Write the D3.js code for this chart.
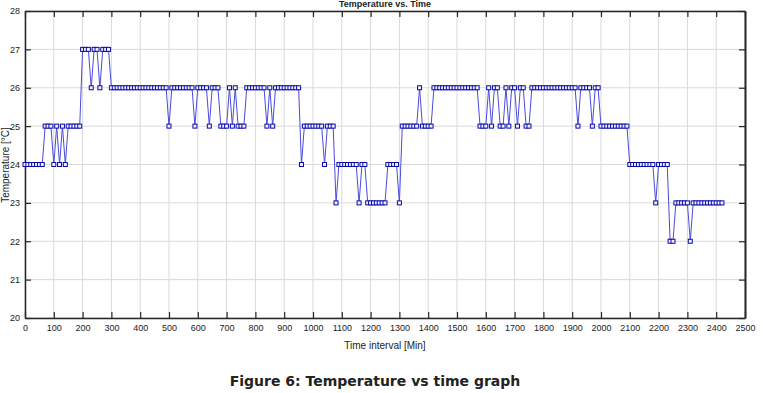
<!DOCTYPE html>
<html lang="en">
<head>
    <meta charset="UTF-8">
    <title>Temperature vs. Time</title>
    <script src="https://d3js.org/d3.v7.min.js"></script>
    <style>
        body { margin: 0; background: #fff; }
        .tick text { font-family: 'Liberation Sans', Arial, sans-serif; font-size: 9px; fill: #222; }
        .axis-label { font-family: 'Liberation Sans', Arial, sans-serif; font-size: 10px; fill: #222; }
    </style>
</head>
<body>
<script>
    // sampling interval of the logger (minutes)
    const sampleStep = 10;

    // temperature readings (°C), one per sample, starting at t = 0
    const temperatures = [
        24, 24, 24, 24, 24, 24, 24, 25, 25, 25,
        24, 25, 24, 25, 24, 25, 25, 25, 25, 25,
        27, 27, 27, 26, 27, 27, 26, 27, 27, 27,
        26, 26, 26, 26, 26, 26, 26, 26, 26, 26,
        26, 26, 26, 26, 26, 26, 26, 26, 26, 26,
        25, 26, 26, 26, 26, 26, 26, 26, 26, 25,
        26, 26, 26, 26, 25, 26, 26, 26, 25, 25,
        25, 26, 25, 26, 25, 25, 25, 26, 26, 26,
        26, 26, 26, 26, 25, 26, 25, 26, 26, 26,
        26, 26, 26, 26, 26, 26, 24, 25, 25, 25,
        25, 25, 25, 25, 24, 25, 25, 25, 23, 24,
        24, 24, 24, 24, 24, 24, 23, 24, 24, 23,
        23, 23, 23, 23, 23, 23, 24, 24, 24, 24,
        23, 25, 25, 25, 25, 25, 25, 26, 25, 25,
        25, 25, 26, 26, 26, 26, 26, 26, 26, 26,
        26, 26, 26, 26, 26, 26, 26, 26, 25, 25,
        25, 26, 25, 26, 26, 25, 25, 26, 25, 26,
        26, 25, 26, 26, 25, 25, 26, 26, 26, 26,
        26, 26, 26, 26, 26, 26, 26, 26, 26, 26,
        26, 26, 25, 26, 26, 26, 26, 25, 26, 26,
        25, 25, 25, 25, 25, 25, 25, 25, 25, 25,
        24, 24, 24, 24, 24, 24, 24, 24, 24, 23,
        24, 24, 24, 24, 22, 22, 23, 23, 23, 23,
        23, 22, 23, 23, 23, 23, 23, 23, 23, 23,
        23, 23, 23
    ];

    const xTicks = [0, 100, 200, 300, 400, 500, 600, 700, 800, 900, 1000, 1100, 1200,
                    1300, 1400, 1500, 1600, 1700, 1800, 1900, 2000, 2100, 2200, 2300, 2400, 2500];
    const yTicks = [20, 21, 22, 23, 24, 25, 26, 27, 28];

    const data = temperatures.map((v, i) => ({t: i * sampleStep, temp: v}));

    const W = 763, H = 393;
    const margin = {top: 11, right: 18, bottom: 75, left: 25},
          width = W - margin.left - margin.right,
          height = H - margin.top - margin.bottom;

    const root = d3.select("body").append("svg")
        .attr("width", W)
        .attr("height", H);

    const svg = root.append("g")
        .attr("transform", `translate(${margin.left},${margin.top})`);

    const x = d3.scaleLinear().domain([0, 2500]).range([0, width]);
    const y = d3.scaleLinear().domain([20, 28]).range([height, 0]);

    // grid
    svg.append("g")
        .selectAll("line.gx")
        .data(xTicks)
        .enter().append("line")
        .attr("x1", d => x(d)).attr("x2", d => x(d))
        .attr("y1", 0).attr("y2", height)
        .attr("stroke", "#d9d9d9").attr("stroke-width", 1);
    svg.append("g")
        .selectAll("line.gy")
        .data(yTicks)
        .enter().append("line")
        .attr("y1", d => y(d)).attr("y2", d => y(d))
        .attr("x1", 0).attr("x2", width)
        .attr("stroke", "#d9d9d9").attr("stroke-width", 1);

    // axes with inward ticks (matlab style box)
    const bottomAxis = svg.append("g")
        .attr("transform", `translate(0,${height})`)
        .call(d3.axisBottom(x).tickValues(xTicks).tickFormat(d3.format("d"))
            .tickSizeInner(-6).tickSizeOuter(0).tickPadding(7));
    const leftAxis = svg.append("g")
        .call(d3.axisLeft(y).tickValues(yTicks).tickFormat(d3.format("d"))
            .tickSizeInner(-6).tickSizeOuter(0).tickPadding(5));
    const topAxis = svg.append("g")
        .call(d3.axisTop(x).tickValues(xTicks).tickSizeInner(-6).tickSizeOuter(0).tickFormat(""));
    const rightAxis = svg.append("g")
        .attr("transform", `translate(${width},0)`)
        .call(d3.axisRight(y).tickValues(yTicks).tickSizeInner(-6).tickSizeOuter(0).tickFormat(""));

    [bottomAxis, leftAxis, topAxis, rightAxis].forEach(a => {
        a.select(".domain").attr("stroke", "#262626").attr("stroke-width", 1.5);
        a.selectAll(".tick line").attr("stroke", "#262626").attr("stroke-width", 1.2);
    });
    rightAxis.select(".domain").attr("stroke-width", 2);

    // line
    const line = d3.line()
        .x(d => x(d.t))
        .y(d => y(d.temp));

    svg.append("path")
        .datum(data)
        .attr("fill", "none")
        .attr("stroke", "#4a4adf")
        .attr("stroke-width", 1)
        .attr("d", line);

    // square markers
    svg.selectAll(".pt")
        .data(data)
        .enter().append("rect")
        .attr("class", "pt")
        .attr("x", d => x(d.t) - 2)
        .attr("y", d => y(d.temp) - 2)
        .attr("width", 4)
        .attr("height", 4)
        .attr("fill", "#eef0ff")
        .attr("stroke", "#0a0aa8")
        .attr("stroke-width", 1);

    // title (partly clipped at the top, as in the source figure)
    root.append("text")
        .attr("x", margin.left + width / 2)
        .attr("y", 7)
        .attr("text-anchor", "middle")
        .style("font-family", "'Liberation Sans', Arial, sans-serif")
        .style("font-size", "9px")
        .style("font-weight", "bold")
        .style("fill", "#222")
        .text("Temperature vs. Time");

    // x-axis label
    root.append("text")
        .attr("class", "axis-label")
        .attr("text-anchor", "middle")
        .attr("x", margin.left + width / 2)
        .attr("y", 349)
        .text("Time interval [Min]");

    // y-axis label
    root.append("text")
        .attr("class", "axis-label")
        .attr("text-anchor", "middle")
        .attr("transform", `translate(9,165) rotate(-90)`)
        .text("Temperature [°C]");

    // figure caption
    root.append("text")
        .attr("x", 375)
        .attr("y", 386)
        .attr("text-anchor", "middle")
        .style("font-family", "'DejaVu Sans', sans-serif")
        .style("font-size", "14px")
        .style("font-weight", "bold")
        .style("fill", "#222")
        .text("Figure 6: Temperature vs time graph");
</script>
</body>
</html>
